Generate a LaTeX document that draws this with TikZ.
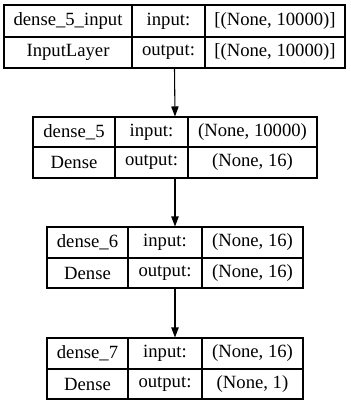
\documentclass[tikz,border=0pt]{standalone}
\usepackage{fontspec}
\setmainfont{Liberation Serif}
\usetikzlibrary{arrows.meta}

\begin{document}
\begin{tikzpicture}[x=0.75pt, y=-0.75pt,
    frame/.style={draw, line width=0.8pt, inner sep=0pt},
    cell/.style={font=\fontsize{14}{16}\selectfont, inner sep=0pt},
    flow/.style={line width=0.8pt, -{Triangle[length=7.5pt, width=5.5pt]}}]
    \useasboundingbox (0,0) rectangle (351,405);

    % dense_5_input
    \node[frame, minimum width=255.75pt, minimum height=47.25pt] (box1) at (174.5, 36.5) {};
    \draw[line width=0.8pt] (box1.west |- 0,37) -- (box1.east |- 0,37);
    \draw[line width=0.8pt] (132,5) -- (132,68);
    \draw[line width=0.8pt] (205,5) -- (205,68);
    \node[cell] (name1) at (68, 21) {dense\_5\_input};
    \node[cell] (kind1) at (68, 52.5) {InputLayer};
    \node[cell] (in1) at (168.5, 21) {input:};
    \node[cell] (out1) at (168.5, 52.5) {output:};
    \node[cell] (inv1) at (275, 21) {[(None, 10000)]};
    \node[cell] (outv1) at (275, 52.5) {[(None, 10000)]};

    % dense_5
    \node[frame, minimum width=213pt, minimum height=45.75pt] (box2) at (175, 147.5) {};
    \draw[line width=0.8pt] (box2.west |- 0,147) -- (box2.east |- 0,147);
    \draw[line width=0.8pt] (115,117) -- (115,178);
    \draw[line width=0.8pt] (188,117) -- (188,178);
    \node[cell] (name2) at (74, 132) {dense\_5};
    \node[cell] (kind2) at (74, 162.5) {Dense};
    \node[cell] (in2) at (151.5, 132) {input:};
    \node[cell] (out2) at (151.5, 162.5) {output:};
    \node[cell] (inv2) at (252.5, 132) {(None, 10000)};
    \node[cell] (outv2) at (252.5, 162.5) {(None, 16)};

    % dense_6
    \node[frame, minimum width=192pt, minimum height=45.75pt] (box3) at (175, 257.5) {};
    \draw[line width=0.8pt] (box3.west |- 0,258) -- (box3.east |- 0,258);
    \draw[line width=0.8pt] (128,227) -- (128,288);
    \draw[line width=0.8pt] (202,227) -- (202,288);
    \node[cell] (name3) at (87.5, 242.5) {dense\_6};
    \node[cell] (kind3) at (87.5, 273) {Dense};
    \node[cell] (in3) at (165, 242.5) {input:};
    \node[cell] (out3) at (165, 273) {output:};
    \node[cell] (inv3) at (252.5, 242.5) {(None, 16)};
    \node[cell] (outv3) at (252.5, 273) {(None, 16)};

    % dense_7
    \node[frame, minimum width=192pt, minimum height=45.75pt] (box4) at (175, 368.5) {};
    \draw[line width=0.8pt] (box4.west |- 0,369) -- (box4.east |- 0,369);
    \draw[line width=0.8pt] (128,338) -- (128,399);
    \draw[line width=0.8pt] (202,338) -- (202,399);
    \node[cell] (name4) at (87.5, 353.5) {dense\_7};
    \node[cell] (kind4) at (87.5, 384) {Dense};
    \node[cell] (in4) at (165, 353.5) {input:};
    \node[cell] (out4) at (165, 384) {output:};
    \node[cell] (inv4) at (252.5, 353.5) {(None, 16)};
    \node[cell] (outv4) at (252.5, 384) {(None, 1)};

    % Arrows
    \draw[flow] (box1.south) -- (box2.north);
    \draw[flow] (box2.south) -- (box3.north);
    \draw[flow] (box3.south) -- (box4.north);

\end{tikzpicture}
\end{document}
